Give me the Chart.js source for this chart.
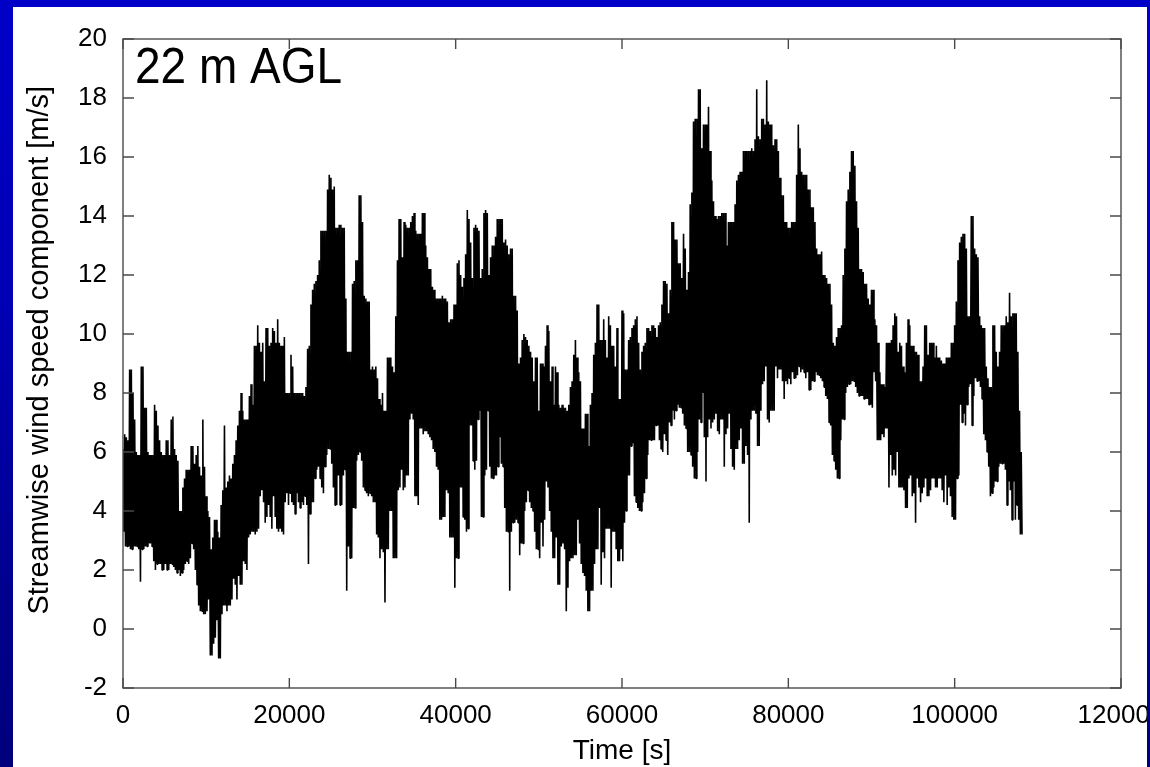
<!DOCTYPE html>
<html>
<head>
<meta charset="utf-8">
<title>Streamwise wind speed, 22 m AGL</title>
<script src="https://cdn.jsdelivr.net/npm/chart.js@4/dist/chart.umd.min.js"></script>
<style>
  html, body { margin: 0; padding: 0; width: 1150px; height: 767px; overflow: hidden; }
  body {
    position: relative;
    background: linear-gradient(to bottom, #0000c8 0%, #0000b4 40%, #00008c 80%, #00007c 100%);
  }
  #panel { position: absolute; left: 13px; top: 7px; width: 1167px; height: 762px; background: #ffffff; }
  #edge {
    position: absolute; left: 1147px; top: 0; width: 3px; height: 767px;
    background: linear-gradient(to bottom, #0000c8 0%, #0000b4 40%, #00008c 80%, #00007c 100%);
  }
  canvas { display: block; }
</style>
</head>
<body>
<div id="panel"><canvas id="chart" width="1167" height="762"></canvas></div>
<div id="edge"></div>
<script>
// Sampling interval of the envelope readings, seconds
const SAMPLE_SECONDS = 200;

// Upper envelope of the streamwise component in each 200 s interval [m/s]
const speedHigh = [
  6.1, 6.6, 6.5, 6.4, 8.8, 8.8, 8.0, 7.1, 6.0, 5.9,
  5.9, 8.9, 8.9, 7.5, 7.5, 6.0, 5.9, 5.9, 5.9, 7.6,
  7.4, 6.9, 6.4, 6.0, 5.9, 5.9, 6.4, 6.4, 5.9, 7.1,
  7.2, 6.1, 5.9, 5.7, 4.0, 4.0, 4.8, 5.1, 5.4, 5.4,
  5.4, 6.2, 6.2, 5.6, 5.9, 6.2, 5.5, 5.2, 7.1, 5.5,
  4.5, 4.0, 3.8, 2.7, 3.1, 3.7, 3.7, 3.3, 3.1, 4.2,
  4.7, 6.9, 4.8, 5.0, 5.2, 5.1, 5.6, 5.9, 6.4, 6.9,
  7.4, 8.0, 7.4, 7.1, 7.1, 7.1, 7.9, 8.3, 7.6, 9.6,
  9.6, 10.3, 9.7, 9.4, 9.7, 8.4, 10.2, 10.2, 9.6, 9.7,
  10.2, 10.1, 9.7, 10.5, 9.7, 9.6, 9.6, 9.9, 8.0, 8.0,
  8.0, 9.3, 8.9, 8.0, 8.0, 8.0, 8.0, 8.0, 8.0, 7.9,
  8.2, 9.5, 9.6, 11.0, 11.5, 11.7, 11.8, 12.0, 12.5, 13.5,
  13.5, 13.5, 13.5, 14.9, 15.4, 15.3, 14.9, 15.0, 13.6, 13.6,
  13.7, 13.7, 13.6, 13.6, 11.2, 9.4, 9.4, 9.4, 11.7, 11.8,
  12.5, 12.5, 14.7, 14.7, 13.8, 11.3, 11.2, 11.1, 11.1, 8.8,
  8.9, 8.8, 8.9, 8.5, 7.8, 7.6, 8.0, 7.4, 7.4, 9.2,
  9.2, 9.2, 8.9, 8.7, 10.6, 12.5, 13.9, 13.9, 12.6, 13.8,
  13.7, 13.6, 13.6, 13.8, 14.0, 14.1, 13.5, 13.4, 13.4, 13.4,
  14.1, 14.1, 13.0, 12.6, 12.2, 12.2, 11.6, 11.5, 11.2, 11.2,
  11.2, 11.2, 11.3, 11.2, 11.2, 11.1, 10.4, 10.5, 10.5, 11.0,
  11.0, 12.4, 12.5, 12.0, 11.6, 11.9, 12.7, 14.2, 13.9, 13.1,
  11.9, 13.6, 13.7, 13.6, 13.5, 11.9, 12.2, 14.1, 14.2, 14.1,
  12.0, 12.6, 13.0, 13.0, 13.3, 13.9, 13.9, 13.9, 13.9, 13.1,
  13.2, 13.0, 12.7, 12.9, 12.9, 11.3, 11.3, 10.8, 9.0, 9.2,
  9.8, 10.0, 9.9, 9.8, 9.6, 9.4, 9.2, 8.4, 9.2, 9.2,
  7.4, 9.0, 9.0, 8.9, 9.6, 10.3, 10.1, 8.4, 8.9, 7.6,
  8.9, 8.7, 7.6, 7.5, 7.6, 7.5, 7.5, 7.4, 7.6, 8.2,
  8.4, 9.3, 9.8, 9.2, 8.7, 8.4, 6.8, 6.8, 7.3, 7.3,
  6.2, 7.6, 8.0, 9.3, 9.7, 11.0, 11.0, 9.8, 9.8, 10.5,
  9.8, 9.2, 10.6, 10.3, 9.6, 9.6, 8.9, 10.2, 7.8, 7.8,
  10.8, 10.7, 8.8, 8.8, 9.8, 9.9, 10.2, 10.3, 10.5, 10.6,
  9.7, 8.8, 9.4, 9.6, 9.7, 10.2, 10.2, 10.1, 10.3, 10.3,
  10.2, 9.9, 10.3, 10.4, 11.0, 11.8, 11.8, 11.7, 10.7, 11.5,
  13.8, 13.8, 13.2, 13.2, 12.4, 12.4, 11.9, 13.4, 12.9, 11.5,
  12.1, 14.4, 14.8, 17.2, 17.3, 17.3, 18.3, 18.3, 16.3, 17.1,
  17.1, 17.1, 17.7, 16.2, 15.2, 14.5, 14.0, 13.9, 14.0, 14.0,
  14.1, 14.1, 14.1, 13.0, 13.8, 13.8, 13.8, 13.8, 14.4, 15.2,
  15.4, 15.5, 15.5, 16.2, 16.2, 16.2, 16.2, 16.2, 16.3, 16.2,
  16.6, 18.3, 16.7, 16.6, 17.3, 17.3, 17.1, 18.6, 17.2, 17.1,
  17.1, 16.4, 16.6, 16.6, 16.2, 15.3, 14.7, 14.7, 13.8, 13.8,
  13.6, 13.6, 13.8, 13.8, 13.8, 15.4, 17.1, 16.3, 15.5, 15.4,
  15.4, 15.4, 14.9, 14.9, 14.3, 14.3, 13.8, 12.9, 12.7, 12.7,
  12.8, 12.0, 12.0, 11.9, 11.7, 11.7, 11.0, 9.7, 9.6, 9.9,
  10.2, 10.2, 10.3, 12.0, 12.9, 14.5, 14.9, 15.5, 16.2, 16.2,
  15.7, 14.5, 13.6, 12.2, 12.2, 12.1, 11.7, 11.7, 11.2, 11.0,
  11.5, 11.5, 10.5, 10.3, 9.7, 8.7, 8.3, 8.3, 8.2, 9.7,
  9.7, 9.7, 9.8, 10.3, 10.7, 10.6, 9.4, 9.7, 9.6, 8.9,
  8.7, 9.7, 10.5, 10.3, 9.6, 9.6, 9.4, 9.4, 9.3, 8.4,
  8.4, 8.9, 10.3, 10.3, 9.3, 9.7, 9.7, 9.7, 9.2, 9.6,
  9.2, 9.2, 9.1, 9.0, 9.0, 9.2, 9.2, 9.2, 9.7, 9.7,
  10.3, 11.1, 12.5, 13.1, 13.3, 13.4, 13.4, 12.9, 10.6, 10.6,
  14.0, 14.0, 12.9, 12.7, 12.6, 10.6, 10.3, 10.2, 10.2, 8.9,
  8.5, 8.2, 8.2, 10.3, 10.3, 9.4, 8.9, 9.4, 10.3, 10.3,
  10.3, 10.6, 10.4, 11.4, 10.6, 10.7, 10.7, 10.7, 9.4, 7.4, 6.0
];

// Lower envelope of the streamwise component in each 200 s interval [m/s]
const speedLow = [
  3.3, 2.8, 2.8, 2.8, 2.7, 2.7, 2.8, 2.8, 2.8, 2.7,
  1.6, 2.7, 2.7, 2.8, 2.8, 2.9, 2.9, 2.8, 2.3, 2.0,
  2.2, 2.2, 2.2, 2.0, 2.0, 2.2, 2.0, 2.0, 2.2, 2.2,
  2.1, 2.0, 1.9, 2.0, 1.8, 1.9, 2.0, 2.2, 2.3, 2.2,
  2.4, 2.9, 2.7, 2.0, 1.5, 0.8, 0.6, 0.6, 0.5, 0.5,
  0.6, 1.0, -0.9, -0.9, -0.5, -0.3, 0.3, -1.0, -1.0, 0.5,
  0.8, 0.8, 0.6, 0.8, 0.8, 1.0, 1.7, 1.5, 1.0, 1.8,
  1.5, 1.5, 2.3, 2.2, 2.0, 3.1, 3.2, 3.3, 3.3, 3.2,
  3.3, 3.4, 4.5, 4.7, 4.3, 3.6, 3.8, 4.2, 3.8, 3.4,
  4.5, 3.8, 3.4, 3.3, 3.4, 3.3, 3.2, 4.3, 4.6, 4.2,
  4.6, 4.3, 4.2, 3.9, 4.6, 4.3, 4.1, 4.3, 4.2, 4.5,
  4.2, 2.2, 3.9, 4.3, 4.3, 5.1, 5.4, 5.5, 5.1, 4.8,
  4.6, 5.5, 5.9, 6.1, 6.1, 5.6, 4.8, 4.2, 4.2, 5.2,
  4.2, 4.2, 5.2, 5.4, 1.3, 2.8, 2.4, 2.4, 4.1, 4.1,
  5.7, 5.9, 6.0, 5.7, 4.8, 4.7, 4.6, 4.5, 4.6, 4.5,
  4.3, 4.3, 3.2, 3.1, 2.4, 2.7, 2.6, 0.9, 2.7, 2.7,
  4.0, 4.0, 2.4, 2.4, 2.4, 4.7, 4.8, 5.4, 4.7, 4.8,
  5.2, 5.2, 7.1, 7.3, 7.1, 4.5, 4.5, 4.2, 6.8, 6.8,
  6.6, 6.7, 6.7, 6.6, 6.5, 6.4, 6.1, 6.0, 5.5, 5.4,
  3.7, 3.7, 3.8, 3.8, 4.7, 4.6, 3.1, 3.1, 3.1, 1.4,
  2.4, 2.4, 4.8, 4.8, 3.8, 3.7, 3.3, 3.4, 6.9, 6.9,
  5.7, 5.4, 5.7, 7.1, 7.4, 3.8, 3.8, 5.2, 5.4, 7.4,
  5.5, 5.1, 5.1, 5.2, 5.2, 5.5, 6.5, 5.6, 5.5, 4.1,
  3.3, 3.3, 1.3, 3.3, 3.6, 3.6, 3.7, 3.6, 2.5, 2.9,
  2.9, 4.0, 4.3, 4.7, 4.3, 4.1, 4.0, 3.3, 2.7, 2.7,
  2.4, 3.6, 2.8, 3.7, 5.0, 4.8, 4.0, 3.3, 2.4, 2.4,
  3.1, 1.5, 1.5, 2.8, 2.9, 2.7, 0.6, 1.4, 2.3, 2.4,
  2.4, 2.5, 2.5, 3.7, 2.9, 2.2, 1.9, 1.8, 1.3, 0.6,
  0.6, 1.3, 1.3, 2.2, 2.7, 2.7, 4.1, 1.5, 2.6, 2.4,
  3.4, 3.4, 3.4, 1.4, 3.3, 3.3, 2.7, 2.3, 2.3, 2.7,
  2.3, 3.6, 4.0, 5.2, 5.2, 6.2, 6.3, 4.5, 4.3, 4.1,
  4.0, 4.0, 4.3, 4.6, 5.1, 5.9, 6.4, 6.4, 6.4, 6.4,
  6.9, 6.9, 6.4, 6.1, 6.0, 6.6, 6.4, 5.9, 7.0, 6.9,
  7.4, 7.1, 7.4, 7.6, 7.5, 7.5, 7.3, 6.9, 6.8, 6.0,
  6.0, 5.9, 5.5, 5.1, 5.1, 6.0, 7.1, 7.0, 8.0, 6.5,
  5.0, 6.5, 7.1, 6.8, 7.0, 7.1, 7.3, 6.7, 6.6, 7.1,
  7.1, 5.5, 6.6, 6.8, 7.3, 6.1, 5.5, 5.4, 6.1, 6.1,
  6.4, 6.8, 5.6, 5.6, 6.2, 5.9, 3.6, 7.1, 7.4, 7.4,
  7.3, 6.2, 6.2, 7.4, 8.3, 8.4, 8.9, 7.1, 7.0, 7.4,
  7.4, 7.4, 8.9, 8.5, 8.8, 8.8, 8.4, 7.8, 8.4, 8.3,
  8.5, 8.3, 8.7, 8.5, 8.5, 8.6, 8.9, 8.7, 8.8, 8.7,
  8.5, 8.7, 8.1, 8.1, 8.4, 8.4, 8.7, 8.6, 8.6, 8.5,
  8.4, 8.2, 7.9, 7.8, 7.0, 6.9, 5.9, 5.7, 5.4, 5.1,
  5.1, 6.4, 7.1, 7.1, 8.0, 8.2, 8.3, 8.3, 8.4, 8.4,
  8.2, 8.0, 7.9, 7.9, 7.9, 7.8, 7.8, 7.8, 7.6, 7.6,
  7.5, 8.7, 8.4, 6.4, 6.4, 6.4, 6.6, 6.5, 6.8, 6.8,
  4.8, 5.9, 5.2, 5.4, 5.2, 6.0, 4.8, 4.8, 4.8, 4.7,
  4.1, 4.1, 5.1, 5.2, 4.5, 4.6, 3.6, 5.1, 4.8, 4.3,
  4.6, 4.8, 5.1, 4.5, 4.5, 4.7, 5.1, 5.1, 4.8, 4.8,
  5.1, 5.1, 4.7, 4.3, 5.2, 4.2, 4.8, 4.5, 3.8, 3.7,
  3.7, 5.1, 5.2, 7.6, 7.0, 7.3, 6.9, 7.6, 8.2, 8.3,
  6.9, 7.9, 8.5, 8.4, 8.4, 8.2, 7.8, 6.6, 6.4, 6.0,
  5.5, 4.5, 4.6, 4.8, 5.0, 5.0, 5.5, 5.6, 5.6, 5.6,
  5.4, 4.2, 5.0, 4.7, 3.7, 5.0, 3.7, 4.2, 3.7, 3.2, 3.2
];

// Axis ticks and texts
const xTickValues = [0, 20000, 40000, 60000, 80000, 100000, 120000];
const yTickValues = [-2, 0, 2, 4, 6, 8, 10, 12, 14, 16, 18, 20];
const panelLabel = '22 m AGL';
const xAxisTitle = 'Time [s]';
const yAxisTitle = 'Streamwise wind speed component [m/s]';

// The trace swings from each interval's high reading to its low reading,
// so the plotted line sweeps out the whole band like the raw record does.
const tracePoints = [];
speedHigh.forEach((hi, k) => {
  const t = k * SAMPLE_SECONDS;
  tracePoints.push({ x: t, y: hi });
  tracePoints.push({ x: t + SAMPLE_SECONDS / 2, y: speedLow[k] });
});

const SANS = '"Liberation Sans", Arial, Helvetica, sans-serif';
const FRAME_COLOR = '#4a4a4a';

// Closed border with inward, mirrored tick marks, the vertical axis title
// (set a little above the plot's mid-height) and the height label
const framePlugin = {
  id: 'frameAndLabel',
  afterDatasetsDraw(chart) {
    const { ctx, chartArea: a, scales } = chart;
    const xs = scales.x, ys = scales.y;
    ctx.save();
    ctx.strokeStyle = FRAME_COLOR;
    ctx.lineWidth = 1.4;
    ctx.strokeRect(a.left, a.top, a.right - a.left, a.bottom - a.top);
    ctx.beginPath();
    xTickValues.forEach(v => {
      const px = xs.getPixelForValue(v);
      ctx.moveTo(px, a.bottom); ctx.lineTo(px, a.bottom - 10);
      ctx.moveTo(px, a.top); ctx.lineTo(px, a.top + 10);
    });
    yTickValues.forEach(v => {
      const py = ys.getPixelForValue(v);
      ctx.moveTo(a.left, py); ctx.lineTo(a.left + 11, py);
      ctx.moveTo(a.right, py); ctx.lineTo(a.right - 11, py);
    });
    ctx.stroke();
    ctx.restore();

    ctx.save();
    ctx.fillStyle = '#000';
    ctx.font = '29px ' + SANS;
    ctx.textAlign = 'center';
    ctx.textBaseline = 'middle';
    ctx.translate(27, ys.getPixelForValue(9.45));
    ctx.rotate(-Math.PI / 2);
    ctx.fillText(yAxisTitle, 0, 0);
    ctx.restore();

    ctx.save();
    ctx.fillStyle = '#000';
    ctx.font = '46px ' + SANS;
    ctx.textAlign = 'left';
    ctx.textBaseline = 'alphabetic';
    ctx.translate(a.left + 12, a.top + 44);
    ctx.scale(1, 1.1);
    ctx.fillText(panelLabel, 0, 0);
    ctx.restore();
  }
};

new Chart(document.getElementById('chart'), {
  type: 'line',
  data: {
    datasets: [{
      data: tracePoints,
      borderColor: '#000',
      borderWidth: 1.6,
      borderJoinStyle: 'bevel',
      pointRadius: 0,
      tension: 0,
      fill: false
    }]
  },
  options: {
    responsive: false,
    devicePixelRatio: 1,
    animation: false,
    events: [],
    layout: { padding: { left: 0, top: 32, right: 59, bottom: 0 } },
    plugins: { legend: { display: false }, tooltip: { enabled: false } },
    scales: {
      x: {
        type: 'linear',
        min: 0,
        max: 120000,
        afterBuildTicks: s => { s.ticks = xTickValues.map(v => ({ value: v })); },
        afterFit: s => { s.height = 81; },
        grid: { display: false, drawTicks: false },
        border: { display: false },
        ticks: {
          padding: 12,
          color: '#000',
          font: { family: SANS, size: 26 },
          maxRotation: 0,
          autoSkip: false,
          callback: v => String(v)
        },
        title: {
          display: true,
          text: xAxisTitle,
          color: '#000',
          font: { family: SANS, size: 28 },
          padding: { top: 0, bottom: 1 }
        }
      },
      y: {
        type: 'linear',
        min: -2,
        max: 20,
        afterBuildTicks: s => { s.ticks = yTickValues.map(v => ({ value: v })); },
        afterFit: s => { s.width = 110; },
        grid: { display: false, drawTicks: false },
        border: { display: false },
        ticks: {
          padding: 16,
          color: '#000',
          font: { family: SANS, size: 26 },
          autoSkip: false,
          callback: v => String(v)
        },
        title: { display: false }
      }
    }
  },
  plugins: [framePlugin]
});
</script>
</body>
</html>
